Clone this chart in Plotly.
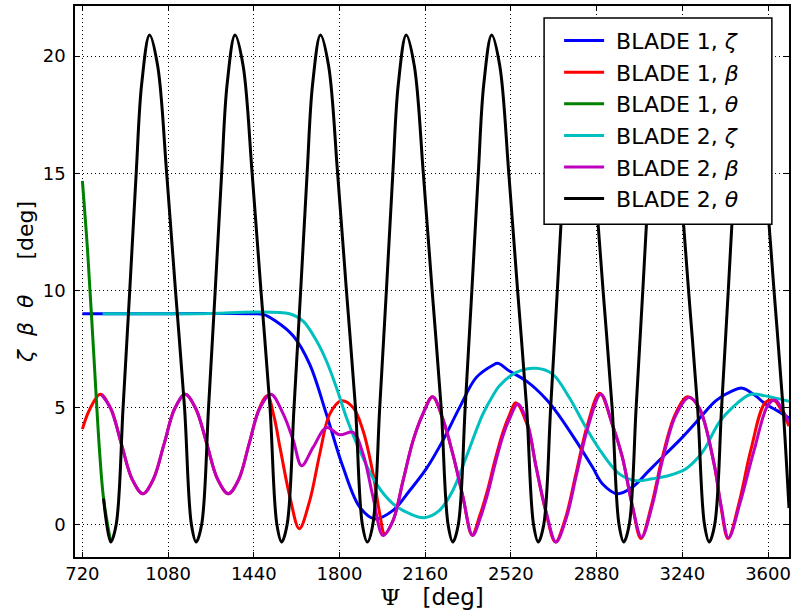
import plotly.graph_objects as go

# ---------------- data ----------------
blue_psi = [720, 1080, 1440, 1480, 1530, 1606, 1675, 1745, 1815, 1885, 1948, 2025, 2095, 2164, 2234, 2304,
            2374, 2444, 2465, 2514, 2584, 2668, 2723, 2793, 2863, 2905, 2968, 3030, 3100, 3170, 3240, 3310,
            3380, 3450, 3492, 3548, 3589, 3640, 3688]
blue_val = [9.0, 9.0, 9.0, 8.97, 8.7, 8.05, 6.84, 4.71, 2.44, 0.74, 0.24, 0.6, 1.45, 2.37, 3.58, 4.99,
            6.27, 6.80, 6.88, 6.55, 6.13, 5.35, 4.64, 3.58, 2.44, 1.73, 1.31, 1.59, 2.30, 3.01, 3.72, 4.50,
            5.28, 5.70, 5.82, 5.49, 5.14, 4.85, 4.55]

red_psi = [720, 750, 795, 840, 884, 929, 974, 1018, 1063, 1107, 1152, 1197, 1243, 1288, 1333, 1377, 1420,
           1462, 1497, 1525, 1550, 1592, 1631, 1675, 1717, 1759, 1808, 1857, 1899, 1941, 1969, 1990, 2025,
           2067, 2109, 2150, 2190, 2234, 2276, 2318, 2357, 2390, 2420, 2452, 2485, 2515, 2540, 2590, 2626,
           2665, 2707, 2750, 2793, 2840, 2893, 2945, 2988, 3030, 3066, 3110, 3156, 3210, 3262, 3310, 3373,
           3400, 3432, 3480, 3527, 3589, 3625, 3660, 3688]
red_val = [4.07, 4.9, 5.56, 4.93, 3.43, 1.93, 1.31, 1.93, 3.43, 4.93, 5.56, 4.93, 3.43, 1.93, 1.31, 1.93, 3.43,
           4.93, 5.5, 4.6, 3.29, 1.16, -0.18, 1.02, 3.01, 4.71, 5.28, 4.99, 4.0, 2.16, 0.46, -0.40, 0.17,
           1.87, 3.58, 4.71, 5.45, 4.5, 3.0, 1.2, -0.45, 0.4, 1.4, 2.7, 3.9, 4.7, 5.2, 4.2, 2.44,
           0.6, -0.75, 0.3, 2.16, 4.2, 5.6, 4.3, 2.87, 0.8, -0.6, 0.8, 2.87, 4.7, 5.45, 4.99, 2.6,
           0.9, -0.6, 1.0, 3.15, 5.21, 5.3, 4.8, 4.2]

green_psi = [720, 742, 767, 792, 809, 839]
green_val = [14.67, 11.66, 7.41, 3.15, 1.1, -0.75]

cyan_psi = [805, 1200, 1590, 1647, 1704, 1745, 1787, 1829, 1885, 1955, 2025, 2095, 2157, 2220, 2276, 2332,
            2402, 2444, 2472, 2542, 2626, 2695, 2765, 2835, 2905, 2975, 3045, 3114, 3184, 3254, 3310, 3338,
            3394, 3450, 3527, 3589, 3688]
cyan_val = [9.0, 9.0, 9.0, 8.68, 7.83, 6.98, 5.85, 4.57, 3.15, 1.73, 0.88, 0.46, 0.29, 0.6, 1.45, 2.87,
            4.71, 5.50, 5.92, 6.49, 6.67, 6.42, 5.42, 4.14, 3.01, 2.16, 1.87, 1.95, 2.09, 2.37, 2.9, 3.3,
            4.35, 4.99, 5.56, 5.49, 5.26]

mag_psi = [800, 840, 884, 929, 974, 1018, 1063, 1107, 1152, 1197, 1243, 1288, 1333, 1377, 1420, 1464, 1512,
           1564, 1606, 1641, 1689, 1745, 1801, 1857, 1899, 1941, 1983, 2025, 2067, 2109, 2150, 2192, 2234,
           2276, 2318, 2359, 2392, 2422, 2454, 2487, 2518, 2549, 2590, 2626, 2668, 2709, 2752, 2795, 2842,
           2898, 2945, 2988, 3030, 3069, 3112, 3158, 3212, 3268, 3310, 3375, 3402, 3434, 3482, 3541, 3600,
           3631, 3660, 3688]
mag_val = [5.55, 4.93, 3.43, 1.93, 1.31, 1.93, 3.43, 4.93, 5.56, 4.93, 3.43, 1.93, 1.31, 1.93, 3.43, 4.93, 5.56,
           4.71, 3.58, 2.51, 3.29, 4.14, 3.83, 3.93, 3.01, 1.16, -0.47, 0.17, 1.87, 3.58, 4.71, 5.45, 4.5,
           3.0, 1.2, -0.47, 0.3, 1.3, 2.6, 3.8, 4.6, 5.14, 4.3, 2.44, 0.55, -0.75, 0.25, 2.1, 4.1,
           5.56, 4.3, 2.87, 0.8, -0.54, 0.75, 2.8, 4.65, 5.42, 4.99, 2.5, 0.85, -0.57, 0.9, 3.15, 5.1,
           5.31, 4.9, 4.35]

black_psi = [809,
             839, 862, 891, 919, 946, 969, 1002, 1036, 1074, 1111, 1149, 1178,
             1198, 1221, 1250, 1278, 1305, 1328, 1361, 1395, 1433, 1470, 1508, 1537,
             1557, 1580, 1609, 1637, 1664, 1687, 1720, 1754, 1792, 1829, 1867, 1896,
             1917, 1940, 1969, 1997, 2024, 2047, 2080, 2114, 2152, 2189, 2227, 2256,
             2276, 2299, 2328, 2356, 2383, 2406, 2439, 2473, 2511, 2548, 2586, 2615,
             2635, 2658, 2687, 2715, 2742, 2765, 2798, 2832, 2870, 2907, 2945, 2974,
             2994, 3017, 3046, 3074, 3101, 3124, 3157, 3191, 3229, 3266, 3304, 3333,
             3353, 3376, 3405, 3433, 3460, 3483, 3516, 3550, 3588, 3625, 3663, 3688]
black_val = [1.1,
             -0.75, 0.0, 5.0, 10.0, 15.0, 18.8, 20.9, 19.6, 15.0, 10.0, 5.0, 0.0,
             -0.75, 0.0, 5.0, 10.0, 15.0, 18.8, 20.9, 19.6, 15.0, 10.0, 5.0, 0.0,
             -0.75, 0.0, 5.0, 10.0, 15.0, 18.8, 20.9, 19.6, 15.0, 10.0, 5.0, 0.0,
             -0.75, 0.0, 5.0, 10.0, 15.0, 18.8, 20.9, 19.6, 15.0, 10.0, 5.0, 0.0,
             -0.75, 0.0, 5.0, 10.0, 15.0, 18.8, 20.9, 19.6, 15.0, 10.0, 5.0, 0.0,
             -0.75, 0.0, 5.0, 10.0, 15.0, 18.8, 20.9, 19.6, 15.0, 10.0, 5.0, 0.0,
             -0.75, 0.0, 5.0, 10.0, 15.0, 18.8, 20.9, 19.6, 15.0, 10.0, 5.0, 0.0,
             -0.75, 0.0, 5.0, 10.0, 15.0, 18.8, 20.9, 19.6, 15.0, 10.0, 5.0, 0.7]

x_ticks = [720, 1080, 1440, 1800, 2160, 2520, 2880, 3240, 3600]
y_ticks = [0, 5, 10, 15, 20]

series = [
    ("\u00a0BLADE 1, <i>ζ</i>", blue_psi, blue_val, "#0000ff"),
    ("\u00a0BLADE 1, <i>β</i>", red_psi, red_val, "#ff0000"),
    ("\u00a0BLADE 1, <i>θ</i>", green_psi, green_val, "#008000"),
    ("\u00a0BLADE 2, <i>ζ</i>", cyan_psi, cyan_val, "#00bfbf"),
    ("\u00a0BLADE 2, <i>β</i>", mag_psi, mag_val, "#bf00bf"),
    ("\u00a0BLADE 2, <i>θ</i>", black_psi, black_val, "#000000"),
]

FONT = "DejaVu Sans"

fig = go.Figure()
for name, xs, ys, col in series:
    fig.add_trace(go.Scatter(x=xs, y=ys, mode="lines", name=name,
                             line=dict(color=col, width=3, shape="spline", smoothing=1.0)))

axis_common = dict(
    showline=True, linecolor="black", linewidth=1.5, mirror="allticks",
    ticks="inside", ticklen=5, tickwidth=1, tickcolor="black",
    showgrid=True, gridcolor="black", griddash="1px,3px", gridwidth=1,
    zeroline=False, tickfont=dict(family=FONT, size=18, color="black"),
)

# legend frame (paper coordinates of the box)
fig.add_shape(type="rect", xref="paper", yref="paper",
              x0=0.657, x1=0.976, y0=0.604, y1=0.978,
              fillcolor="white", line=dict(color="black", width=1.5), layer="above")

fig.update_layout(
    width=795, height=615,
    margin=dict(l=75, r=6, t=4, b=58),
    paper_bgcolor="white", plot_bgcolor="white",
    font=dict(family=FONT, color="black"),
    xaxis=dict(range=[689, 3688], tickvals=x_ticks, ticktext=[str(v) for v in x_ticks],
               title=dict(text="<span style=\"font-family:DejaVu Serif\">Ψ</span>\u00a0\u00a0\u00a0[deg]",
                          font=dict(family=FONT, size=23), standoff=6),
               **axis_common),
    yaxis=dict(range=[-1.39, 22.14], tickvals=y_ticks, ticktext=[str(v) for v in y_ticks],
               title=dict(text="<i>ζ</i>\u00a0\u00a0<i>β</i>\u00a0\u00a0<i>θ</i>\u00a0\u00a0\u00a0\u00a0\u00a0[deg]",
                          font=dict(family=FONT, size=22), standoff=3),
               ticklabelstandoff=4,
               **axis_common),
    legend=dict(x=0.678, y=0.975, xanchor="left", yanchor="top",
                bgcolor="rgba(0,0,0,0)", borderwidth=0,
                font=dict(family=FONT, size=22, color="black"),
                itemwidth=40, tracegroupgap=0),
    showlegend=True,
)

fig.write_html("out.html")
